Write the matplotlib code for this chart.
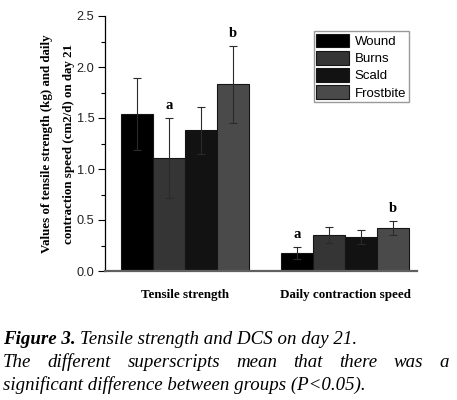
import numpy as np
import matplotlib
matplotlib.use('Agg')
import matplotlib.pyplot as plt
from matplotlib.ticker import MultipleLocator, FormatStrFormatter

# ── Data ──────────────────────────────────────────────────────────────────────
categories = ['Tensile strength', 'Daily contraction speed']
groups     = ['Wound', 'Burns', 'Scald', 'Frostbite']
means = {
    'Wound':     [1.54, 0.18],
    'Burns':     [1.11, 0.35],
    'Scald':     [1.38, 0.33],
    'Frostbite': [1.83, 0.42],
}
errors = {
    'Wound':     [0.35, 0.06],
    'Burns':     [0.39, 0.08],
    'Scald':     [0.23, 0.07],
    'Frostbite': [0.38, 0.07],
}
# significance letters: (category index, group, letter)
letters = [(0, 'Burns', 'a'), (0, 'Frostbite', 'b'),
           (1, 'Wound', 'a'), (1, 'Frostbite', 'b')]

colors = {'Wound': '#000000', 'Burns': '#353535',
          'Scald': '#121212', 'Frostbite': '#4a4a4a'}

serif = ['Liberation Serif', 'DejaVu Serif']
sans  = ['Liberation Sans', 'DejaVu Sans']

W, H = 457, 400

# ── Figure ────────────────────────────────────────────────────────────────────
fig = plt.figure(figsize=(W / 100, H / 100), dpi=100)
ax = fig.add_axes([105 / W, 1 - 271 / H, 312 / W, 255 / H])

centers = np.array([0.0, 5.0])
width = 1.0
for i, g in enumerate(groups):
    xs = centers + (i - 1.5) * width
    ax.bar(xs, means[g], width=width, color=colors[g], edgecolor='#151515',
           linewidth=0.8, label=g, zorder=2)
    ax.errorbar(xs, means[g], yerr=errors[g], fmt='none', ecolor='#2a2a2a',
                elinewidth=0.8, capsize=3, capthick=0.8, zorder=3)

for ci, g, lt in letters:
    i = groups.index(g)
    x = centers[ci] + (i - 1.5) * width
    y = means[g][ci] + errors[g][ci]
    ax.annotate(lt, xy=(x, y), xytext=(0, 4), textcoords='offset points',
                ha='center', va='bottom', fontsize=10.5, fontweight='bold',
                family=serif)

ax.set_xlim(-2.5, 7.25)
ax.set_ylim(0, 2.5)
ax.yaxis.set_major_locator(MultipleLocator(0.5))
ax.yaxis.set_minor_locator(MultipleLocator(0.25))
ax.yaxis.set_major_formatter(FormatStrFormatter('%.1f'))
ax.tick_params(axis='y', which='major', direction='out', length=5, width=0.8,
               labelsize=9.2, pad=2.5)
ax.tick_params(axis='y', which='minor', direction='out', length=3, width=0.8)
for lab in ax.get_yticklabels():
    lab.set_family(sans)
    lab.set_color('#222222')

ax.set_xticks(centers)
ax.set_xticklabels(categories, fontsize=9.4, fontweight='bold', family=serif)
ax.tick_params(axis='x', length=0, pad=13)

ax.spines['top'].set_visible(False)
ax.spines['right'].set_visible(False)
ax.spines['left'].set_linewidth(0.9)
ax.spines['bottom'].set_color('#606060')
ax.spines['bottom'].set_linewidth(1.6)

ax.set_ylabel('Values of tensile strength (kg) and daily\ncontraction speed (cm2/d) on day 21',
              fontsize=9.4, fontweight='bold', family=serif, linespacing=2.2,
              labelpad=1)

leg = ax.legend(loc='upper right', bbox_to_anchor=(0.974, 0.94),
                prop={'family': sans, 'size': 9.5}, fancybox=False,
                framealpha=1, edgecolor='#999999', handlelength=2.5,
                handleheight=1.2, labelspacing=0.22, handletextpad=0.4,
                borderpad=0.2, borderaxespad=0)
leg.get_frame().set_linewidth(1.0)

# ── Caption (justified middle line) ───────────────────────────────────────────
cap_size = 13.6
base1, base2, base3 = 344, 367, 390
t0 = fig.text(3 / W, 1 - base1 / H, 'Figure 3.', fontsize=cap_size,
              style='italic', fontweight='bold', family=serif, va='baseline')
fig.canvas.draw()
r = fig.canvas.get_renderer()
bb = t0.get_window_extent(r)
fig.text((bb.x1 + 4) / W, 1 - base1 / H,
         'Tensile strength and DCS on day 21.', fontsize=cap_size,
         style='italic', family=serif, va='baseline')

words = 'The different superscripts mean that there was a'.split()
left_px, right_px = 3, 449
objs = [fig.text(0, 1 - base2 / H, w, fontsize=cap_size, style='italic',
                 family=serif, va='baseline') for w in words]
fig.canvas.draw()
widths = [o.get_window_extent(r).width for o in objs]
gap = (right_px - left_px - sum(widths)) / (len(words) - 1)
x = left_px
for o, w in zip(objs, widths):
    o.set_x(x / W)
    x += w + gap

fig.text(3 / W, 1 - base3 / H,
         'significant difference between groups (P<0.05).', fontsize=cap_size,
         style='italic', family=serif, va='baseline')

fig.savefig('out.png', dpi=100)
